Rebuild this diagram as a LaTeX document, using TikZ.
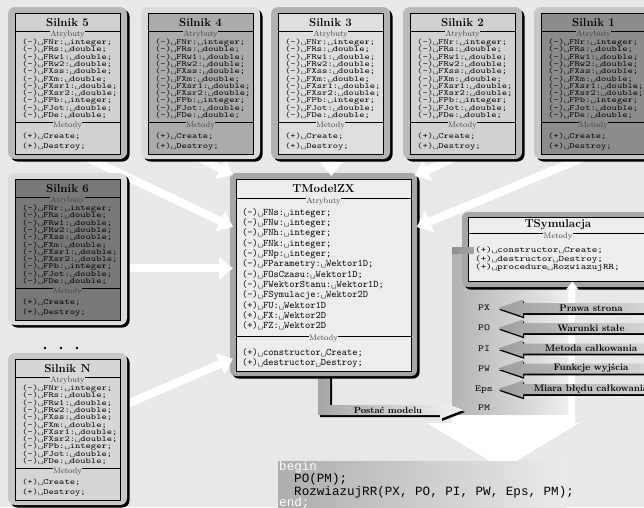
\documentclass[tikz,border=0pt]{standalone}
\usepackage{fontspec}
\usetikzlibrary{arrows.meta,calc}
\newfontfamily\silmono{lmmono10-regular}[Extension=.otf,FakeStretch=1.26]
\newfontfamily\tmmono{lmmono10-regular}[Extension=.otf]
\newfontfamily\codefont{Liberation Mono}
\newcommand\vs{\char"2423\relax}
\pgfdeclarelayer{back}
\pgfdeclarelayer{mid}
\pgfsetlayers{back,mid,main}
\def\silattrs{{(-)\vs FNr:\vs integer;},{(-)\vs FRs:\vs double;},{(-)\vs FRw1:\vs double;},{(-)\vs FRw2:\vs double;},{(-)\vs FXss:\vs double;},{(-)\vs FXm:\vs double;},{(-)\vs FXsr1:\vs double;},{(-)\vs FXsr2:\vs double;},{(-)\vs FPb:\vs integer;},{(-)\vs FJot:\vs double;},{(-)\vs FDe:\vs double;}}
\def\tmattrs{{(-)\vs FNs:\vs integer;},{(-)\vs FNw:\vs integer;},{(-)\vs FNh:\vs integer;},{(-)\vs FNk:\vs integer;},{(-)\vs FNp:\vs integer;},{(-)\vs FParametry:\vs Wektor1D;},{(-)\vs FOsCzasu:\vs Wektor1D;},{(-)\vs FWektorStanu:\vs Wektor1D;},{(-)\vs FSymulacje:\vs Wektor2D},{(+)\vs FU:\vs Wektor1D},{(+)\vs FX:\vs Wektor2D},{(+)\vs FZ:\vs Wektor2D}}
\tikzset{
  silline/.style={anchor=base west, inner sep=0pt, font=\silmono\fontsize{8}{8}\selectfont},
  tmline/.style={anchor=base west, inner sep=0pt, font=\tmmono\fontsize{10}{11}\selectfont},
  tsline/.style={anchor=base west, inner sep=0pt, font=\silmono\fontsize{8.4}{9}\selectfont},
  sectlabel/.style={inner sep=0.5pt, font=\fontsize{8}{8}\selectfont, text=black!75},
  boxtitle/.style={inner sep=0pt, font=\bfseries\fontsize{11.5}{12}\selectfont},
  innerbox/.style={draw=black, line width=0.6pt, anchor=north west, inner sep=0pt},
  sepline/.style={line width=0.6pt},
  whitearrow/.style={draw=white, line width=8pt, -{Triangle[length=14pt,width=22pt]}},
  arrlabel/.style={inner sep=0pt, font=\bfseries\fontsize{9.5}{10}\selectfont},
  portlabel/.style={anchor=base, inner sep=0pt, font=\silmono\fontsize{9}{9}\selectfont},
  codeline/.style={anchor=base west, inner sep=0pt, font=\codefont\fontsize{12.6}{13}\selectfont},
}
% #1 name, #2 x, #3 y, #4 frame colour, #5 inner colour, #6 title
\newcommand\silnik[6]{%
  \fill[black,rounded corners=7pt] ({#2-7+2.5},{#3-6+2.5}) rectangle ({#2+112+2.5},{#3+146+2.5});
  \fill[#4,rounded corners=7pt] ({#2-7},{#3-6}) rectangle ({#2+112},{#3+146});
  \node[innerbox, fill=#5, minimum width=105pt, minimum height=141pt] (#1) at (#2,#3) {};
  \draw[sepline] (#2,{#3+18}) -- ({#2+105},{#3+18});
  \draw[sepline] (#2,{#3+109}) -- ({#2+105},{#3+109});
  \node[boxtitle] (#1t) at ({#2+52.5},{#3+9.5}) {#6};
  \node[sectlabel, fill=#5] (#1at) at ({#2+52.5},{#3+21}) {Atrybuty};
  \node[sectlabel, fill=#5] (#1me) at ({#2+52.5},{#3+112.5}) {Metody};
  \foreach \t [count=\i from 0] in \silattrs {\node[silline] (#1a\i) at ({#2+7},{#3+31.5+7.3*\i}) {\t};}
  \node[silline] (#1m0) at ({#2+7},{#3+125.5}) {(+)\vs Create;};
  \node[silline] (#1m1) at ({#2+7},{#3+135.5}) {(+)\vs Destroy;};
}
% #1 y centre, #2 label, #3 name
\newcommand\leftarr[3]{%
  \fill[black, shift={(1,1.8)}] (498,#1) -- (523,{#1-8.5}) -- (523,{#1-5}) -- (660,{#1-5}) -- (660,{#1+5}) -- (523,{#1+5}) -- (523,{#1+8.5}) -- cycle;
  \shade[left color=black!38, right color=black!15] (498,#1) -- (523,{#1-8.5}) -- (523,{#1-5}) -- (660,{#1-5}) -- (660,{#1+5}) -- (523,{#1+5}) -- (523,{#1+8.5}) -- cycle;
  \node[arrlabel] (#3) at (591,#1) {#2};
}
\begin{document}
\begin{tikzpicture}[x=1pt,y=-1pt]
\useasboundingbox (0,0) rectangle (644,507);

% ---- Silnik boxes
\silnik{s5}{15}{13}{black!28}{black!18}{Silnik 5}
\silnik{s4}{148}{13}{black!14}{black!33}{Silnik 4}
\silnik{s3}{278}{13}{black!30}{black!13}{Silnik 3}
\silnik{s2}{410}{13}{black!27}{black!18}{Silnik 2}
\silnik{s1}{541}{13}{black!22}{black!45}{Silnik 1}
\silnik{s6}{15}{179}{black!14}{black!53}{Silnik 6}
\silnik{sN}{15}{359}{black!22}{black!16}{Silnik N}

\fill (45,348) circle (1.3pt) (61,348) circle (1.3pt) (77,348) circle (1.3pt);

% ---- TModelZX
\node[innerbox, fill=black!7, minimum width=175pt, minimum height=192pt] (tm) at (236,179) {};
\draw[sepline] (236,198) -- (411,198);
\draw[sepline] (236,336) -- (411,336);
\node[boxtitle, font=\bfseries\fontsize{11.5}{12}\selectfont] (tmt) at (323.5,189) {TModelZX};
\node[sectlabel, fill=black!7] (tmat) at (323.5,201.5) {Atrybuty};
\node[sectlabel, fill=black!7] (tmme) at (323.5,339) {Metody};
\foreach \t [count=\i from 0] in \tmattrs {\node[tmline] (tma\i) at (242,{215+10.35*\i}) {\t};}
\node[tmline] (tmm0) at (242,355) {(+)\vs constructor\vs Create;};
\node[tmline] (tmm1) at (242,365) {(+)\vs destructor\vs Destroy;};

% ---- TSymulacja
\fill[black,rounded corners=6pt] (464.5,214.5) rectangle (656.5,289.5);
\fill[black!35,rounded corners=6pt] (462,212) rectangle (654,287);
\node[innerbox, fill=black!7, minimum width=180pt, minimum height=64pt] (ts) at (468,217) {};
\draw[sepline] (468,233) -- (648,233);
\node[boxtitle, font=\bfseries\fontsize{11.5}{12}\selectfont] (tst) at (558,225) {TSymulacja};
\node[sectlabel, fill=black!7] (tsme) at (558,236.5) {Metody};
\node[tsline] (tsm0) at (475,252.5) {(+)\vs constructor\vs Create;};
\node[tsline] (tsm1) at (475,261) {(+)\vs destructor\vs Destroy;};
\node[tsline] (tsm2) at (475,269.5) {(+)\vs procedure\vs RozwiazujRR;};
\shade[left color=black!45, right color=black!35] (452,247) rectangle (474,253);

% white strip into TSymulacja
\draw[white, line width=6pt, -{Triangle[length=8pt,width=12pt]}] (572,423) -- ($(ts.south)+(14,0)$);

% ---- port labels and input arrows
\node[portlabel] (px) at (484,310.6) {PX};
\node[portlabel] (po) at (484,330.6) {PO};
\node[portlabel] (pi) at (484,351.1) {PI};
\node[portlabel] (pw) at (484,371.1) {PW};
\node[portlabel] (eps) at (484,391.6) {Eps};
\node[portlabel] (pm) at (484,410.6) {PM};
\leftarr{308}{Prawa strona}{lpx}
\leftarr{328}{Warunki stałe}{lpo}
\leftarr{348.5}{Metoda całkowania}{lpi}
\leftarr{368.5}{Funkcje wyjścia}{lpw}
\leftarr{389}{Miara błędu całkowania}{leps}

% ---- code box
\shade[left color=black!32, right color=black!8] (278,461) rectangle (566,510);
\node[codeline, text=white] (cb) at (279,470.3) {begin};
\node[codeline] (c1) at (294,482.6) {PO(PM);};
\node[codeline] (c2) at (294,495.8) {RozwiazujRR(PX, PO, PI, PW, Eps, PM);};
\node[codeline, text=white] (ce) at (279,506) {end;};

% ---- background layer
\begin{pgfonlayer}{back}
\fill[black!9] (0,0) rectangle (644,507);
\fill[white] (452,247) rectangle (575,424);
\fill[white] (427,423) -- (579,423) -- (503,469) -- cycle;
\shade[left color=black!30, middle color=black!9, right color=black!7] (452,247) rectangle (568,414);
% Postac modelu connector
\fill[black, shift={(2,2)}] (318,371) -- (330,371) -- (330,405) -- (440,405) -- (440,401) -- (463,410) -- (440,419) -- (440,415) -- (318,415) -- cycle;
\shade[left color=black!35, right color=black!4] (318,371) -- (330,371) -- (330,405) -- (440,405) -- (440,401) -- (463,410) -- (440,419) -- (440,415) -- (318,415) -- cycle;
\node[arrlabel, font=\bfseries\fontsize{9}{10}\selectfont] (pml) at (388,410) {Postać modelu};
% TModelZX frame
\fill[black,rounded corners=6pt] (232.5,175.5) rectangle (419.5,378.5);
\fill[black!35,rounded corners=6pt] (230,173) rectangle (417,376);
\end{pgfonlayer}

% ---- white arrows into TModelZX
\begin{pgfonlayer}{mid}
\draw[whitearrow] ($(s5.south)+(12.5,0)$) -- ($(tm.north west)+(-3,48)$);
\draw[whitearrow] ($(s4.south)+(-15,-4)$) -- ($(tm.north west)+(-3,-4)$);
\draw[whitearrow] ($(s3.south)+(0.5,-4)$) -- ($(tm.north)+(7.5,-3)$);
\draw[whitearrow] ($(s2.south)+(7.5,-4)$) -- ($(tm.north east)+(3,-3)$);
\draw[whitearrow] ($(s1.south)+(6.5,-4)$) -- ($(tm.north east)+(5,48)$);
\draw[whitearrow] ($(s6.east)+(-10,18.5)$) -- ($(tm.west)+(-3,-7)$);
\draw[whitearrow] ($(sN.east)+(-20,-14.5)$) -- ($(tm.south west)+(-3,-13)$);
\end{pgfonlayer}
\end{tikzpicture}
\end{document}
